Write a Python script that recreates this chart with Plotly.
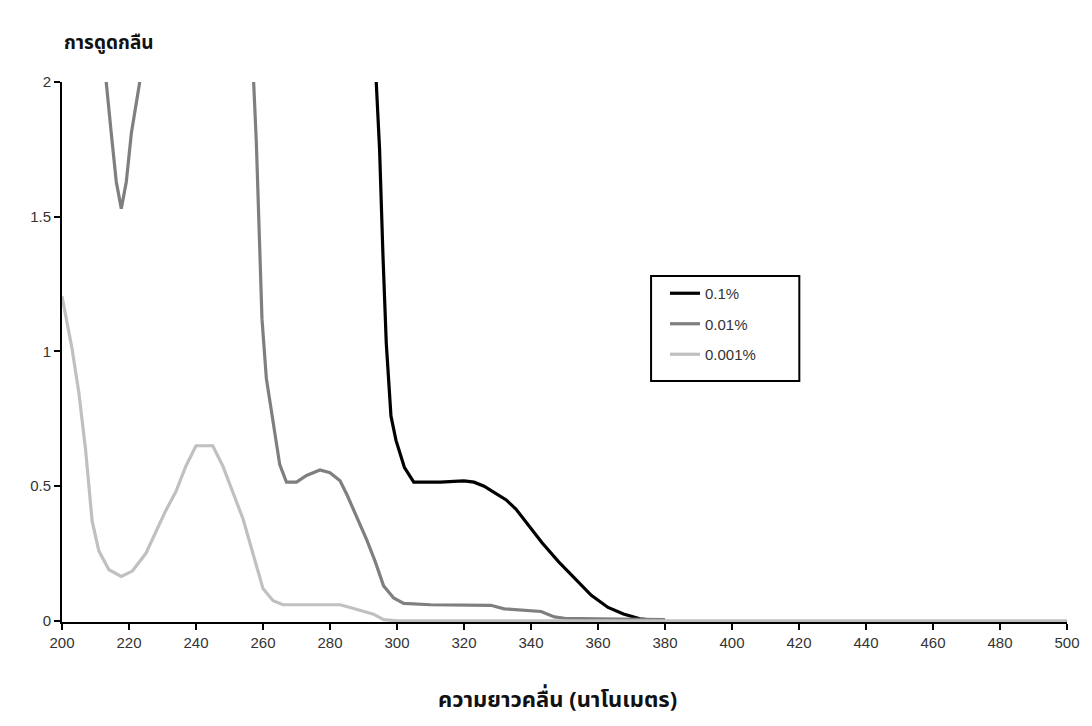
import plotly.graph_objects as go

# ---- data ----
series_names = ["0.1%", "0.01%", "0.001%"]
series_colors = ["#000000", "#7f7f7f", "#c0c0c0"]

# 0.1 %
wl_01 = [290, 292, 293.8, 294.8, 295.8, 296.8, 298.2, 299.7, 302.2, 305, 309, 313, 317, 320, 323,
         326, 328.6, 332.5, 335.5, 338.4, 343.3, 348.2, 353, 358, 363, 367.6, 372.5, 376, 380]
abs_01 = [3.6, 2.7, 2.0, 1.75, 1.36, 1.03, 0.76, 0.67, 0.57, 0.515, 0.515, 0.515, 0.518, 0.52, 0.515,
          0.50, 0.48, 0.45, 0.415, 0.37, 0.29, 0.22, 0.16, 0.095, 0.05, 0.026, 0.008, 0.003, 0.002]

# 0.01 %
wl_001 = [200, 205, 210, 213.2, 214.7, 216.2, 217.7, 219.2, 220.7, 223.2, 226, 230, 240, 250, 255,
          257.2, 258, 259, 259.7, 261, 263, 265, 267, 270, 273, 277, 280, 283, 285, 287.5, 291,
          293.5, 296, 299, 302, 310, 320, 328, 332, 338, 343, 347, 350, 360, 370, 380]
abs_001 = [3.0, 2.7, 2.3, 2.0, 1.81, 1.63, 1.53, 1.63, 1.81, 2.0, 2.3, 2.7, 3.0, 2.8, 2.4,
           2.0, 1.78, 1.4, 1.12, 0.9, 0.73, 0.58, 0.515, 0.515, 0.54, 0.56, 0.55, 0.52, 0.47, 0.40, 0.30,
           0.22, 0.13, 0.085, 0.065, 0.06, 0.06, 0.058, 0.045, 0.04, 0.035, 0.015, 0.01, 0.008, 0.006, 0.005]

# 0.001 %
wl_0001 = [200, 201.5, 203, 205, 207, 209, 211, 214, 217.7, 221, 225, 228, 231, 234, 237, 240, 245,
           248, 251, 254, 257, 260, 263, 266, 275, 283, 286, 290, 293, 296, 300, 320, 340, 360, 380,
           400, 420, 440, 460, 480, 500]
abs_0001 = [1.205, 1.1, 1.01, 0.85, 0.64, 0.37, 0.26, 0.19, 0.165, 0.185, 0.25, 0.33, 0.41, 0.48, 0.575,
            0.65, 0.65, 0.575, 0.48, 0.38, 0.25, 0.12, 0.075, 0.06, 0.06, 0.06, 0.05, 0.035, 0.025, 0.005,
            0.0, 0.0, 0.0, 0.0, 0.0, 0.0, 0.0, 0.0, 0.0, 0.0, 0.0]

x_ticks = [200, 220, 240, 260, 280, 300, 320, 340, 360, 380, 400, 420, 440, 460, 480, 500]
y_ticks = [0, 0.5, 1, 1.5, 2]
y_ticktext = ["0", "0.5", "1", "1.5", "2"]

y_title = "การดูดกลืน"
x_title = "ความยาวคลื่น (นาโนเมตร)"

THAI_FONT = "Noto Sans Thai, Noto Sans Thai Looped, Loma, Garuda, Tlwg Typo, DejaVu Sans, Noto Sans, sans-serif"
TICK_FONT = "Liberation Sans, Arial, sans-serif"

fig = go.Figure()
for name, color, xs, ys in zip(series_names, series_colors,
                               [wl_01, wl_001, wl_0001], [abs_01, abs_001, abs_0001]):
    fig.add_trace(go.Scatter(x=xs, y=ys, mode="lines", name=name, legendgroup=name,
                             line=dict(color=color, width=3.2)))

# figure is drawn inside an 8px body margin -> 1084x718 fills the 1092x726 window
W, H = 1084, 718
L, T = 54, 74
PW, PH = 1010, 540
R, B = W - L - PW, H - T - PH

def px_to_paper_x(px):
    return (px - 8 - L) / PW

def px_to_paper_y(py):
    return (T + PH - (py - 8)) / PH

fig.update_layout(
    width=W, height=H,
    margin=dict(l=L, r=R, t=T, b=B),
    paper_bgcolor="white", plot_bgcolor="white",
    showlegend=True,
    legend=dict(x=px_to_paper_x(668), y=px_to_paper_y(277), xanchor="left", yanchor="top",
                borderwidth=0, bgcolor="rgba(0,0,0,0)",
                font=dict(family=TICK_FONT, size=15, color="#333"),
                tracegroupgap=8, traceorder="grouped"),
    shapes=[dict(type="rect", xref="paper", yref="paper",
                 x0=px_to_paper_x(654), x1=px_to_paper_x(803),
                 y0=px_to_paper_y(381), y1=px_to_paper_y(276),
                 line=dict(color="black", width=2), fillcolor="rgba(0,0,0,0)", layer="above")],
    annotations=[
        dict(text="<b>" + y_title + "</b>", xref="paper", yref="paper", x=px_to_paper_x(62),
             y=px_to_paper_y(43), xanchor="left", yanchor="middle", showarrow=False,
             font=dict(family=THAI_FONT, size=19, color="#111")),
        dict(text="<b>" + x_title + "</b>", xref="paper", yref="paper", x=px_to_paper_x(560),
             y=px_to_paper_y(700), xanchor="center", yanchor="middle", showarrow=False,
             font=dict(family=THAI_FONT, size=22, color="#111")),
    ],
)
fig.update_xaxes(range=[200, 500], tickmode="array", tickvals=x_ticks,
                 showgrid=False, zeroline=False, showline=True, linecolor="black", linewidth=2,
                 ticks="outside", ticklen=6, tickwidth=2, tickcolor="black",
                 tickfont=dict(family=TICK_FONT, size=15, color="#333"), layer="below traces")
fig.update_yaxes(range=[-0.004, 2.0], tickmode="array", tickvals=y_ticks, ticktext=y_ticktext,
                 showgrid=False, zeroline=False, showline=True, linecolor="black", linewidth=2,
                 ticks="outside", ticklen=6, tickwidth=2, tickcolor="black",
                 tickfont=dict(family=TICK_FONT, size=15, color="#333"), layer="below traces")

fig.write_html("out.html")
